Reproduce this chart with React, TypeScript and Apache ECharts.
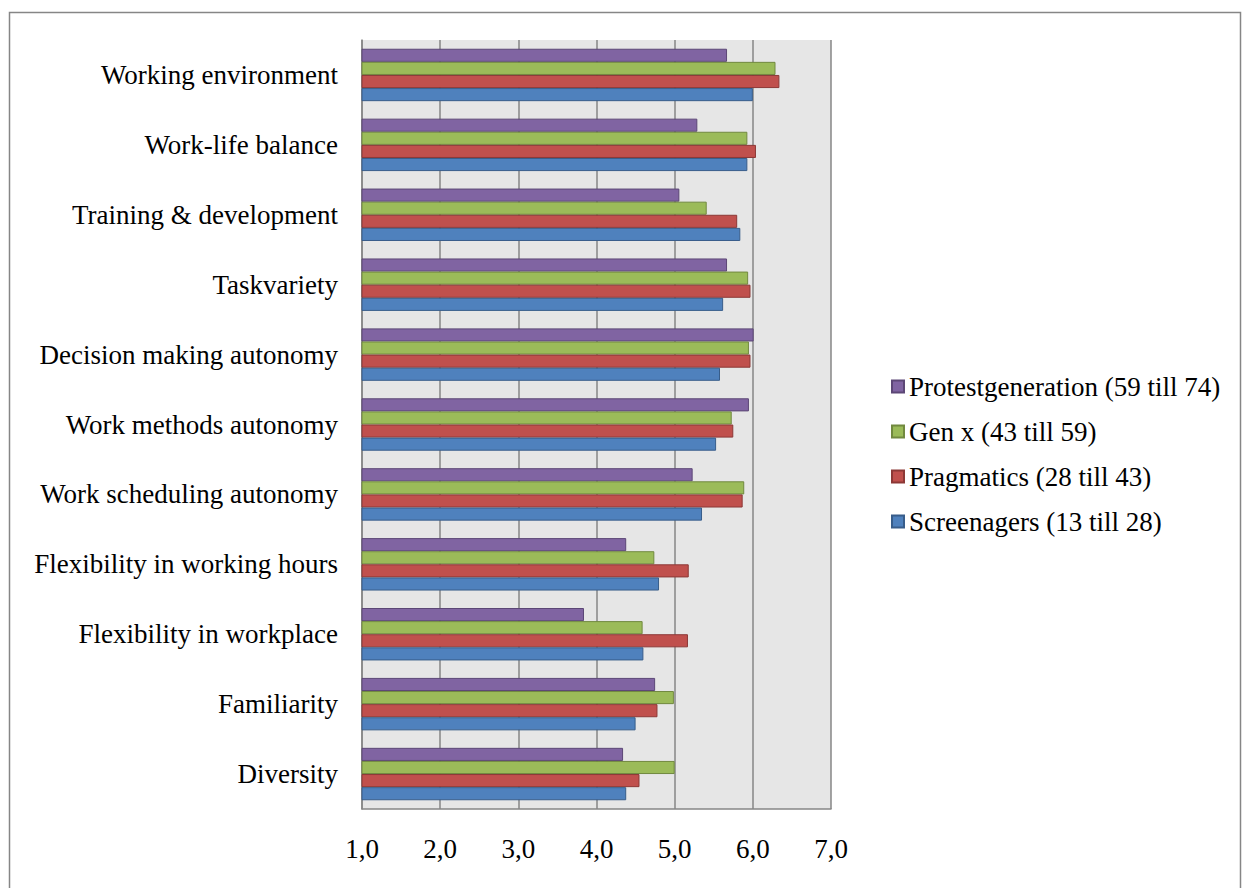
import React, { useEffect, useRef } from "react";
import * as echarts from "echarts";

// Work-factor ratings by generation (scale 1–7)
const categories = [
  "Diversity",
  "Familiarity",
  "Flexibility in workplace",
  "Flexibility in working hours",
  "Work scheduling autonomy",
  "Work methods autonomy",
  "Decision making autonomy",
  "Taskvariety",
  "Training & development",
  "Work-life balance",
  "Working environment",
];

const protest = [4.34, 4.75, 3.84, 4.38, 5.23, 5.95, 6.01, 5.67, 5.06, 5.29, 5.67];
const genX = [5.0, 4.99, 4.59, 4.74, 5.89, 5.73, 5.95, 5.94, 5.41, 5.93, 6.29];
const pragmatics = [4.55, 4.78, 5.17, 5.18, 5.87, 5.75, 5.97, 5.97, 5.8, 6.04, 6.34];
const screenagers = [4.38, 4.5, 4.6, 4.8, 5.35, 5.53, 5.58, 5.62, 5.84, 5.93, 6.0];

const seriesNames = [
  "Protestgeneration (59 till 74)",
  "Gen x (43 till 59)",
  "Pragmatics (28 till 43)",
  "Screenagers (13 till 28)",
];

const fills = ["#8064a2", "#9bbb59", "#c0504d", "#4f81bd"];
const borders = ["#5c4776", "#71893f", "#8c3836", "#385d8a"];

const FONT = '"Liberation Serif", "Times New Roman", serif';

export default function App() {
  const ref = useRef<HTMLDivElement>(null);

  useEffect(() => {
    if (!ref.current) return;
    const chart = echarts.init(ref.current, undefined, { renderer: "svg" });
    const values = [protest, genX, pragmatics, screenagers];

    chart.setOption({
      animation: false,
      backgroundColor: "#ffffff",
      textStyle: { fontFamily: FONT },
      graphic: [
        {
          type: "rect",
          shape: { x: 9.5, y: 12.5, width: 1231, height: 900 },
          style: { fill: "none", stroke: "#868686", lineWidth: 1.5 },
          silent: true,
        },
      ],
      legend: {
        data: seriesNames,
        orient: "vertical",
        left: 886,
        top: 368,
        itemWidth: 12,
        itemHeight: 12,
        itemGap: 18,
        icon: "rect",
        textStyle: { fontFamily: FONT, fontSize: 27, color: "#000" },
      },
      grid: {
        left: 362,
        top: 40,
        width: 469,
        height: 769,
        show: true,
        backgroundColor: "#e6e6e6",
        borderWidth: 0,
      },
      xAxis: {
        type: "value",
        min: 1,
        max: 7,
        interval: 1,
        axisLine: { show: true, lineStyle: { color: "#868686", width: 1.5 } },
        axisTick: { show: false },
        splitLine: { show: true, lineStyle: { color: "#868686", width: 1.5 } },
        axisLabel: {
          margin: 26,
          fontSize: 27,
          fontFamily: FONT,
          color: "#000",
          formatter: (v: number) => v.toFixed(1).replace(".", ","),
        },
      },
      yAxis: {
        type: "category",
        data: categories,
        axisLine: { show: true, lineStyle: { color: "#868686", width: 1.5 } },
        axisTick: { show: false },
        axisLabel: { margin: 24, fontSize: 27, fontFamily: FONT, color: "#000" },
      },
      series: seriesNames.map((name, i) => ({
        name,
        type: "bar",
        data: values[i],
        barGap: "0%",
        barCategoryGap: "25%",
        itemStyle: { color: fills[i], borderColor: borders[i], borderWidth: 1 },
      })),
    });

    return () => chart.dispose();
  }, []);

  return (
    <div
      ref={ref}
      style={{ position: "fixed", left: 0, top: 0, width: 1242, height: 888 }}
    />
  );
}
